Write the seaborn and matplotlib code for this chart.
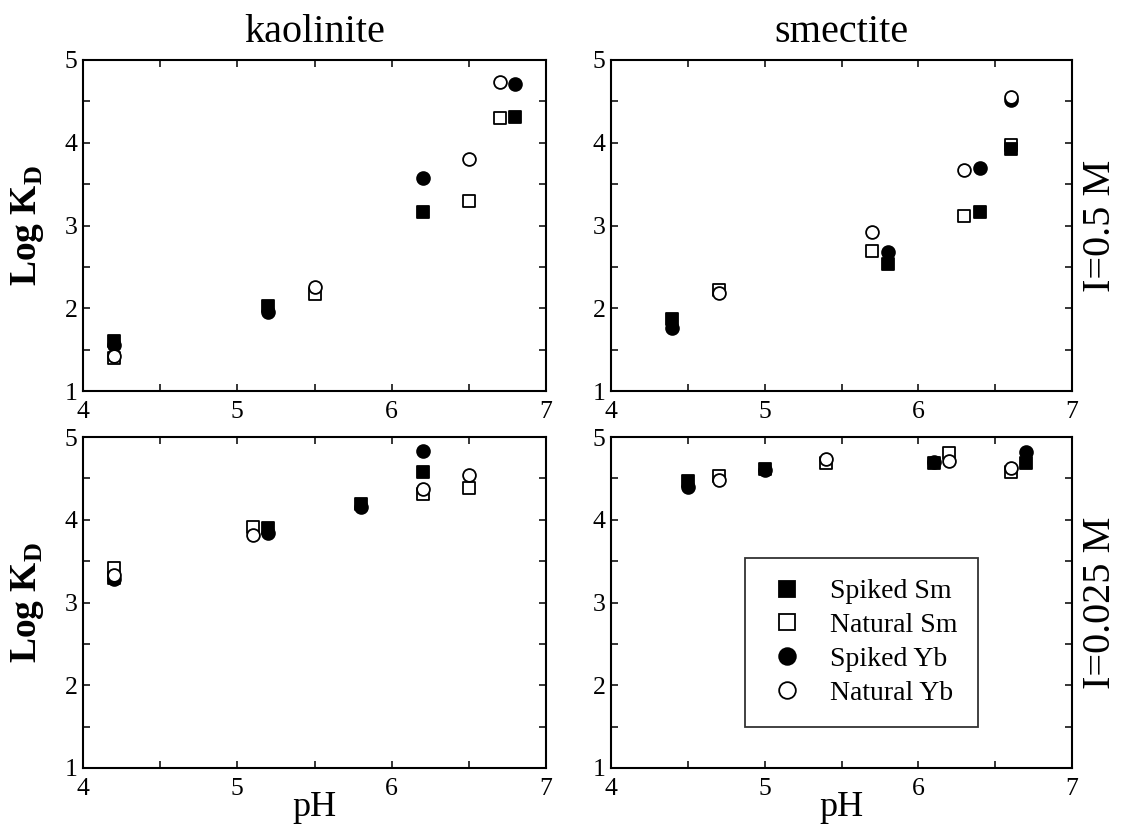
import numpy as np
import pandas as pd
import matplotlib
matplotlib.use("Agg")
import matplotlib.pyplot as plt
from matplotlib.lines import Line2D
from matplotlib.ticker import MultipleLocator
import seaborn as sns

sns.set_style("ticks")
plt.rcParams['font.family'] = ['Liberation Serif', 'DejaVu Serif']
plt.rcParams['mathtext.fontset'] = 'custom'
plt.rcParams['mathtext.rm'] = 'Liberation Serif'
plt.rcParams['mathtext.bf'] = 'Liberation Serif:bold'
for k in ['text.color', 'axes.labelcolor', 'xtick.color', 'ytick.color', 'axes.edgecolor']:
    plt.rcParams[k] = 'black'

# ---------------- data ----------------
series_names = ["Spiked Sm", "Natural Sm", "Spiked Yb", "Natural Yb"]
clays = ["kaolinite", "smectite"]
strengths = ["I=0.5 M", "I=0.025 M"]

# kaolinite, I=0.5 M
kao_hi_spk_ph = [4.2, 5.2, 6.2, 6.8]
kao_hi_nat_ph = [4.2, 5.5, 6.5, 6.7]
kao_hi_spiked_sm = [1.60, 2.03, 3.16, 4.31]
kao_hi_natural_sm = [1.40, 2.17, 3.30, 4.30]
kao_hi_spiked_yb = [1.56, 1.95, 3.58, 4.71]
kao_hi_natural_yb = [1.42, 2.26, 3.80, 4.73]

# smectite, I=0.5 M
sme_hi_spk_ph = [4.4, 5.8, 6.4, 6.6]
sme_hi_nat_ph = [4.7, 5.7, 6.3, 6.6]
sme_hi_spiked_sm = [1.87, 2.54, 3.16, 3.93]
sme_hi_natural_sm = [2.22, 2.69, 3.12, 3.97]
sme_hi_spiked_yb = [1.76, 2.68, 3.69, 4.52]
sme_hi_natural_yb = [2.19, 2.92, 3.67, 4.55]

# kaolinite, I=0.025 M
kao_lo_spk_ph = [4.2, 5.2, 5.8, 6.2]
kao_lo_nat_ph = [4.2, 5.1, 6.2, 6.5]
kao_lo_spiked_sm = [3.30, 3.90, 4.19, 4.58]
kao_lo_natural_sm = [3.42, 3.91, 4.31, 4.38]
kao_lo_spiked_yb = [3.28, 3.84, 4.15, 4.83]
kao_lo_natural_yb = [3.33, 3.82, 4.37, 4.54]

# smectite, I=0.025 M
sme_lo_spk_ph = [4.5, 5.0, 6.1, 6.7]
sme_lo_nat_ph = [4.7, 5.4, 6.2, 6.6]
sme_lo_spiked_sm = [4.47, 4.61, 4.69, 4.69]
sme_lo_natural_sm = [4.53, 4.69, 4.81, 4.58]
sme_lo_spiked_yb = [4.40, 4.60, 4.70, 4.82]
sme_lo_natural_yb = [4.48, 4.73, 4.71, 4.62]

x_ticks = [4, 5, 6, 7]
y_ticks = [1, 2, 3, 4, 5]

panels = {
    (0, 0): (kao_hi_spk_ph, kao_hi_nat_ph, kao_hi_spiked_sm, kao_hi_natural_sm, kao_hi_spiked_yb, kao_hi_natural_yb),
    (0, 1): (sme_hi_spk_ph, sme_hi_nat_ph, sme_hi_spiked_sm, sme_hi_natural_sm, sme_hi_spiked_yb, sme_hi_natural_yb),
    (1, 0): (kao_lo_spk_ph, kao_lo_nat_ph, kao_lo_spiked_sm, kao_lo_natural_sm, kao_lo_spiked_yb, kao_lo_natural_yb),
    (1, 1): (sme_lo_spk_ph, sme_lo_nat_ph, sme_lo_spiked_sm, sme_lo_natural_sm, sme_lo_spiked_yb, sme_lo_natural_yb),
}

rows = []
for (r, c), (sph, nph, ssm, nsm, syb, nyb) in panels.items():
    for name, ph, vals in [("Spiked Sm", sph, ssm), ("Natural Sm", nph, nsm),
                           ("Spiked Yb", sph, syb), ("Natural Yb", nph, nyb)]:
        for p, v in zip(ph, vals):
            rows.append(dict(row=r, col=c, series=name, pH=p, logKD=v))
df = pd.DataFrame(rows)

styles = {
    "Spiked Sm": dict(marker="s", fc="black"),
    "Natural Sm": dict(marker="s", fc="white"),
    "Spiked Yb": dict(marker="o", fc="black"),
    "Natural Yb": dict(marker="o", fc="white"),
}

# ---------------- figure ----------------
W, H = 1123, 834
fig = plt.figure(figsize=(W / 100, H / 100), dpi=100)

col_x = [(83, 546), (611, 1072)]
row_y = [(60, 391), (437, 768)]

axes = {}
for r in range(2):
    for c in range(2):
        x0, x1 = col_x[c]
        y0, y1 = row_y[r]
        ax = fig.add_axes([x0 / W, 1 - y1 / H, (x1 - x0) / W, (y1 - y0) / H])
        axes[(r, c)] = ax
        sub = df[(df.row == r) & (df.col == c)]
        for name in ["Natural Sm", "Spiked Sm", "Spiked Yb", "Natural Yb"]:
            d = sub[sub.series == name]
            st = styles[name]
            sns.scatterplot(data=d, x="pH", y="logKD", ax=ax, marker=st["marker"],
                            s=85, facecolor=st["fc"], edgecolor="black",
                            linewidth=1.3, zorder=3, legend=False)
        ax.set_xlim(4, 7)
        ax.set_ylim(1, 5)
        ax.set_xticks(x_ticks)
        ax.set_yticks(y_ticks)
        ax.xaxis.set_minor_locator(MultipleLocator(0.5))
        ax.yaxis.set_minor_locator(MultipleLocator(0.5))
        ax.tick_params(which="both", direction="in", top=True, right=True,
                       length=5, width=1.1, colors="black")
        ax.tick_params(which="major", labelsize=18.5)
        ax.tick_params(axis="x", which="major", pad=7)
        ax.tick_params(axis="y", which="major", pad=4)
        ax.set_xlabel("")
        ax.set_ylabel("")
        for sp in ax.spines.values():
            sp.set_visible(True)
            sp.set_linewidth(1.5)
            sp.set_color("black")

# column titles
for c, name in enumerate(clays):
    xc = (col_x[c][0] + col_x[c][1]) / 2 / W
    fig.text(xc, 1 - 42 / H, name, ha="center", va="baseline", fontsize=29)

# x labels
for c in range(2):
    xc = (col_x[c][0] + col_x[c][1]) / 2 / W
    fig.text(xc, 1 - 816 / H, "pH", ha="center", va="baseline", fontsize=26)

# y labels and ionic strength labels
for r in range(2):
    yc = 1 - (row_y[r][0] + row_y[r][1]) / 2 / H
    fig.text(27 / W, yc, r"Log K$_\mathregular{D}$", rotation=90, ha="center",
             va="center", fontsize=27, fontweight="bold")
    fig.text(1101 / W, yc, strengths[r], rotation=90, ha="center", va="center",
             fontsize=29)

# legend
handles = [Line2D([], [], ls="none", marker=styles[n]["marker"], mfc=styles[n]["fc"],
                  mec="black", mew=1.3, ms=12) for n in series_names]
leg = axes[(1, 1)].legend(handles, series_names, loc="upper left",
                          bbox_to_anchor=(0.291, 0.634), borderaxespad=0,
                          frameon=True, fancybox=False, fontsize=20,
                          handletextpad=0.8, borderpad=0.75, labelspacing=0.3,
                          handlelength=1.5)
leg.get_frame().set_edgecolor("black")
leg.get_frame().set_linewidth(1.3)

fig.savefig("out.png", dpi=100)
